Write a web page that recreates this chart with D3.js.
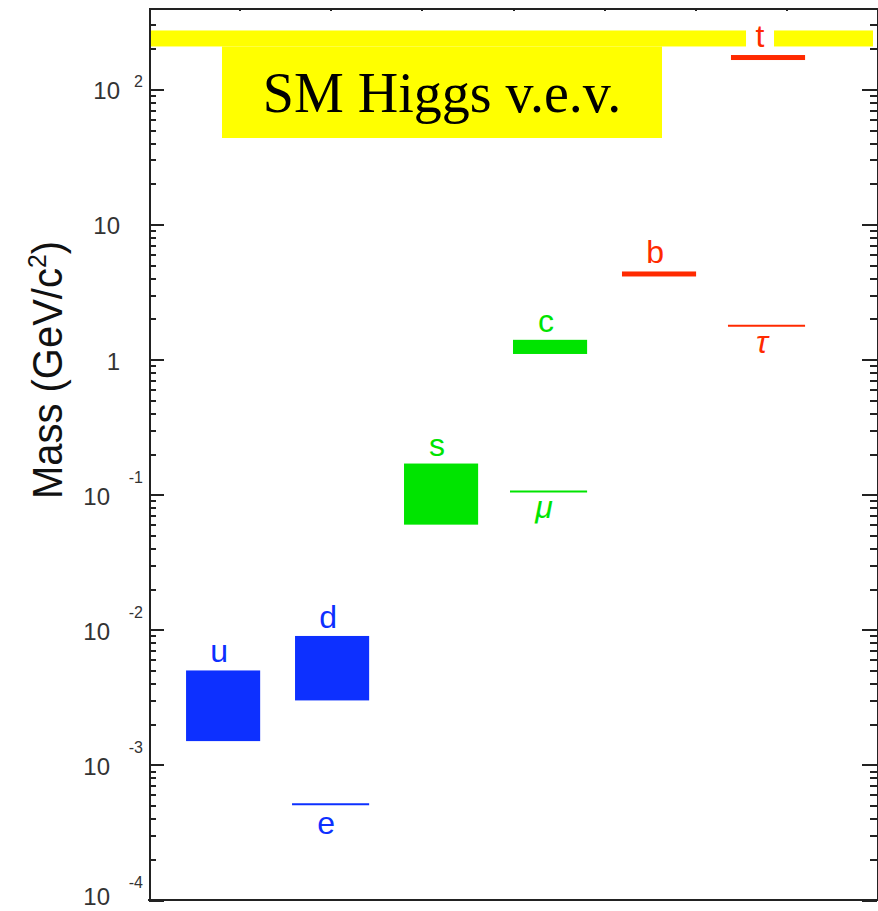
<!DOCTYPE html>
<html>
<head>
<meta charset="utf-8">
<script src="https://cdn.jsdelivr.net/npm/d3@7"></script>
<style>
  body { margin: 0; background: #fff; }
  svg { display: block; }
  .axis path, .axis line { stroke: #222; stroke-width: 2; shape-rendering: crispEdges; }
  .ticklab { font-family: "Liberation Sans", Arial, sans-serif; fill: #333; }
  .plabel { font-family: "Liberation Sans", Arial, sans-serif; font-size: 32px; }
</style>
</head>
<body>
<div id="chart"></div>
<script>
"use strict";

// quarks: mass range in GeV/c^2 (single value drawn as a thick bar)
var quarkNames = ["u", "d", "s", "c", "b", "t"];
var quarkCols  = [1, 2, 3, 4, 5, 6];
var quarkLo    = [0.0015, 0.003, 0.06, 1.1, 4.3, 172];
var quarkHi    = [0.005, 0.009, 0.17, 1.4, 4.3, 172];
var quarkGen   = [1, 1, 2, 2, 3, 3];

// charged leptons
var leptonNames = ["e", "\u03bc", "\u03c4"];
var leptonCols  = [2, 4, 6];
var leptonMass  = [0.000511, 0.1057, 1.777];
var leptonGen   = [1, 2, 3];

// Higgs vacuum expectation value
var vev = 238;

// y tick decades and top axis ticks
var decades = [-4, -3, -2, -1, 0, 1, 2];
var topTicks = [1, 2, 3, 4, 5, 6, 7];

var genColor = { 1: "#0d30ff", 2: "#00e400", 3: "#ff2a00" };

var drawChart = function () {
  var W = 878, H = 911;
  var pLeft = 149, pRight = 877, pTop = 8, pBottom = 900;

  var svg = d3.select("#chart")
              .append("svg")
              .attr("width", W)
              .attr("height", H);

  var y = d3.scaleLog()
            .domain([1e-4, 400])
            .range([pBottom, pTop]);

  var x = d3.scaleLinear()
            .domain([0.32, 7])
            .range([pLeft, pRight]);

  var xTop = d3.scaleLinear()
               .domain([0, 8])
               .range([pLeft - 1, pRight + 1]);

  var halfW = 0.34;

  // minor ticks 2..9 in each decade
  var majors = decades.map(function (e) { return Math.pow(10, e); });
  var minors = [];
  decades.forEach(function (e) {
    for (var k = 2; k <= 9; k++) {
      var v = k * Math.pow(10, e);
      if (v <= 400) minors.push(v);
    }
  });

  // Higgs v.e.v. band, broken around the "t" label
  var tX = x(6) - 8;
  var vy = y(vev);
  svg.append("rect")
     .attr("x", pLeft + 1)
     .attr("y", vy - 8)
     .attr("width", tX - 14 - pLeft - 1)
     .attr("height", 16)
     .attr("fill", "#ffff00");
  svg.append("rect")
     .attr("x", tX + 14)
     .attr("y", vy - 8)
     .attr("width", pRight - 4 - tX - 14)
     .attr("height", 16)
     .attr("fill", "#ffff00");

  // yellow label box hanging under the band
  svg.append("rect")
     .attr("x", 222)
     .attr("y", vy + 8)
     .attr("width", 440)
     .attr("height", 138 - (vy + 8))
     .attr("fill", "#ffff00");
  svg.append("text")
     .attr("x", 442)
     .attr("y", 112)
     .attr("text-anchor", "middle")
     .style("font-family", "'Liberation Serif', 'Times New Roman', serif")
     .style("font-size", "56px")
     .attr("fill", "#000")
     .text("SM Higgs v.e.v.");

  // axes
  svg.append("g")
     .attr("class", "axis")
     .attr("transform", "translate(" + pLeft + ",0)")
     .call(d3.axisLeft(y).tickValues(majors).tickSize(-15).tickSizeOuter(0).tickFormat(""));
  svg.append("g")
     .attr("class", "axis")
     .attr("transform", "translate(" + pLeft + ",0)")
     .call(d3.axisLeft(y).tickValues(minors).tickSize(-7).tickSizeOuter(0).tickFormat(""));
  svg.append("g")
     .attr("class", "axis")
     .attr("transform", "translate(" + pRight + ",0)")
     .call(d3.axisRight(y).tickValues(majors).tickSize(-15).tickSizeOuter(0).tickFormat(""));
  svg.append("g")
     .attr("class", "axis")
     .attr("transform", "translate(" + pRight + ",0)")
     .call(d3.axisRight(y).tickValues(minors).tickSize(-7).tickSizeOuter(0).tickFormat(""));
  svg.append("g")
     .attr("class", "axis")
     .attr("transform", "translate(0," + pTop + ")")
     .call(d3.axisTop(xTop).tickValues(topTicks).tickSize(-3).tickSizeOuter(0).tickFormat(""));
  svg.append("line")
     .attr("x1", pLeft - 1).attr("x2", pRight + 1)
     .attr("y1", pBottom).attr("y2", pBottom)
     .attr("stroke", "#222").attr("stroke-width", 2);

  // y tick labels: 10 with superscript exponent
  var labs = svg.append("g").attr("class", "ticklab");
  decades.forEach(function (e) {
    var ty = y(Math.pow(10, e));
    var base = e === 0 ? "1" : "10";
    labs.append("text")
        .attr("x", e >= 0 ? 120 : 110)
        .attr("y", Math.min(ty + 10, 905))
        .attr("text-anchor", "end")
        .style("font-size", "24px")
        .text(base);
    if (e !== 0 && e !== 1) {
      labs.append("text")
          .attr("x", 143)
          .attr("y", e > 0 ? ty - 2 : ty - 12)
          .attr("text-anchor", "end")
          .style("font-size", "16px")
          .text(e < 0 ? "-" + (-e) : String(e));
    }
  });

  // y axis title
  var title = svg.append("text")
     .attr("transform", "translate(62,370) rotate(-90)")
     .attr("text-anchor", "middle")
     .attr("textLength", 258)
     .attr("lengthAdjust", "spacingAndGlyphs")
     .style("font-family", "'Liberation Sans', Arial, sans-serif")
     .style("font-size", "42px")
     .attr("fill", "#111");
  title.append("tspan").text("Mass (GeV/c");
  title.append("tspan").attr("dy", -16).style("font-size", "26px").text("2");
  title.append("tspan").attr("dy", 16).text(")");

  // quark boxes
  quarkNames.forEach(function (q, i) {
    var t0 = y(quarkHi[i]), b0 = y(quarkLo[i]);
    var h = Math.max(b0 - t0, 5);
    var yTop = (t0 + b0) / 2 - h / 2;
    svg.append("rect")
       .attr("x", x(quarkCols[i] - halfW))
       .attr("y", yTop)
       .attr("width", x(quarkCols[i] + halfW) - x(quarkCols[i] - halfW))
       .attr("height", h)
       .attr("fill", genColor[quarkGen[i]]);
    svg.append("text")
       .attr("class", "plabel")
       .attr("x", x(quarkCols[i]) - (q === "t" ? 8 : 4))
       .attr("y", yTop - 8)
       .attr("text-anchor", "middle")
       .attr("fill", genColor[quarkGen[i]])
       .text(q);
  });

  // lepton lines
  leptonNames.forEach(function (l, i) {
    var ly = y(leptonMass[i]);
    svg.append("line")
       .attr("x1", x(leptonCols[i] - halfW) - 3)
       .attr("x2", x(leptonCols[i] + halfW))
       .attr("y1", ly)
       .attr("y2", ly)
       .attr("stroke", genColor[leptonGen[i]])
       .attr("stroke-width", 2);
    svg.append("text")
       .attr("class", "plabel")
       .attr("x", x(leptonCols[i]) - 6)
       .attr("y", ly + (l === "e" ? 30 : 27))
       .attr("text-anchor", "middle")
       .style("font-style", l === "e" ? "normal" : "italic")
       .attr("fill", genColor[leptonGen[i]])
       .text(l);
  });
};

drawChart();
</script>
</body>
</html>
